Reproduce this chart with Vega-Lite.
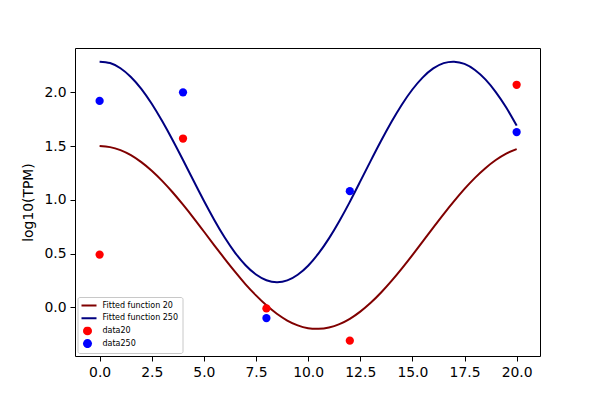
{
  "$schema": "https://vega.github.io/schema/vega-lite/v6.json",
  "width": 465,
  "height": 308,
  "autosize": {"type": "none"},
  "padding": {"left": 75, "top": 48, "right": 60, "bottom": 44},
  "background": "white",
  "config": {
    "font": "DejaVu Sans",
    "view": {"stroke": "black", "strokeWidth": 1},
    "axis": {
      "domain": false,
      "grid": false,
      "ticks": true,
      "tickColor": "black",
      "tickSize": 5,
      "tickWidth": 1,
      "labelFont": "DejaVu Sans",
      "labelFontSize": 13.9,
      "labelColor": "black",
      "labelPadding": 4,
      "titleFont": "DejaVu Sans",
      "titleFontSize": 13.9,
      "titleFontWeight": "normal",
      "titleColor": "black"
    }
  },
  "datasets": {
    "curves": [
      {"x": 0, "y": 1.500, "series": "Fitted function 20"},
      {"x": 0.5, "y": 1.490, "series": "Fitted function 20"},
      {"x": 1, "y": 1.462, "series": "Fitted function 20"},
      {"x": 1.5, "y": 1.415, "series": "Fitted function 20"},
      {"x": 2, "y": 1.350, "series": "Fitted function 20"},
      {"x": 2.5, "y": 1.270, "series": "Fitted function 20"},
      {"x": 3, "y": 1.176, "series": "Fitted function 20"},
      {"x": 3.5, "y": 1.070, "series": "Fitted function 20"},
      {"x": 4, "y": 0.954, "series": "Fitted function 20"},
      {"x": 4.5, "y": 0.832, "series": "Fitted function 20"},
      {"x": 5, "y": 0.705, "series": "Fitted function 20"},
      {"x": 5.5, "y": 0.577, "series": "Fitted function 20"},
      {"x": 6, "y": 0.451, "series": "Fitted function 20"},
      {"x": 6.5, "y": 0.329, "series": "Fitted function 20"},
      {"x": 7, "y": 0.214, "series": "Fitted function 20"},
      {"x": 7.5, "y": 0.111, "series": "Fitted function 20"},
      {"x": 8, "y": 0.018, "series": "Fitted function 20"},
      {"x": 8.5, "y": -0.060, "series": "Fitted function 20"},
      {"x": 9, "y": -0.123, "series": "Fitted function 20"},
      {"x": 9.5, "y": -0.168, "series": "Fitted function 20"},
      {"x": 10, "y": -0.194, "series": "Fitted function 20"},
      {"x": 10.5, "y": -0.200, "series": "Fitted function 20"},
      {"x": 11, "y": -0.187, "series": "Fitted function 20"},
      {"x": 11.5, "y": -0.156, "series": "Fitted function 20"},
      {"x": 12, "y": -0.107, "series": "Fitted function 20"},
      {"x": 12.5, "y": -0.040, "series": "Fitted function 20"},
      {"x": 13, "y": 0.042, "series": "Fitted function 20"},
      {"x": 13.5, "y": 0.138, "series": "Fitted function 20"},
      {"x": 14, "y": 0.246, "series": "Fitted function 20"},
      {"x": 14.5, "y": 0.363, "series": "Fitted function 20"},
      {"x": 15, "y": 0.486, "series": "Fitted function 20"},
      {"x": 15.5, "y": 0.613, "series": "Fitted function 20"},
      {"x": 16, "y": 0.741, "series": "Fitted function 20"},
      {"x": 16.5, "y": 0.867, "series": "Fitted function 20"},
      {"x": 17, "y": 0.987, "series": "Fitted function 20"},
      {"x": 17.5, "y": 1.101, "series": "Fitted function 20"},
      {"x": 18, "y": 1.204, "series": "Fitted function 20"},
      {"x": 18.5, "y": 1.294, "series": "Fitted function 20"},
      {"x": 19, "y": 1.370, "series": "Fitted function 20"},
      {"x": 19.5, "y": 1.430, "series": "Fitted function 20"},
      {"x": 20, "y": 1.472, "series": "Fitted function 20"},
      {"x": 0, "y": 2.285, "series": "Fitted function 250"},
      {"x": 0.5, "y": 2.272, "series": "Fitted function 250"},
      {"x": 1, "y": 2.224, "series": "Fitted function 250"},
      {"x": 1.5, "y": 2.143, "series": "Fitted function 250"},
      {"x": 2, "y": 2.032, "series": "Fitted function 250"},
      {"x": 2.5, "y": 1.893, "series": "Fitted function 250"},
      {"x": 3, "y": 1.732, "series": "Fitted function 250"},
      {"x": 3.5, "y": 1.556, "series": "Fitted function 250"},
      {"x": 4, "y": 1.370, "series": "Fitted function 250"},
      {"x": 4.5, "y": 1.179, "series": "Fitted function 250"},
      {"x": 5, "y": 0.991, "series": "Fitted function 250"},
      {"x": 5.5, "y": 0.813, "series": "Fitted function 250"},
      {"x": 6, "y": 0.649, "series": "Fitted function 250"},
      {"x": 6.5, "y": 0.507, "series": "Fitted function 250"},
      {"x": 7, "y": 0.391, "series": "Fitted function 250"},
      {"x": 7.5, "y": 0.305, "series": "Fitted function 250"},
      {"x": 8, "y": 0.252, "series": "Fitted function 250"},
      {"x": 8.5, "y": 0.233, "series": "Fitted function 250"},
      {"x": 9, "y": 0.250, "series": "Fitted function 250"},
      {"x": 9.5, "y": 0.303, "series": "Fitted function 250"},
      {"x": 10, "y": 0.387, "series": "Fitted function 250"},
      {"x": 10.5, "y": 0.501, "series": "Fitted function 250"},
      {"x": 11, "y": 0.641, "series": "Fitted function 250"},
      {"x": 11.5, "y": 0.803, "series": "Fitted function 250"},
      {"x": 12, "y": 0.981, "series": "Fitted function 250"},
      {"x": 12.5, "y": 1.171, "series": "Fitted function 250"},
      {"x": 13, "y": 1.362, "series": "Fitted function 250"},
      {"x": 13.5, "y": 1.549, "series": "Fitted function 250"},
      {"x": 14, "y": 1.726, "series": "Fitted function 250"},
      {"x": 14.5, "y": 1.887, "series": "Fitted function 250"},
      {"x": 15, "y": 2.026, "series": "Fitted function 250"},
      {"x": 15.5, "y": 2.139, "series": "Fitted function 250"},
      {"x": 16, "y": 2.222, "series": "Fitted function 250"},
      {"x": 16.5, "y": 2.271, "series": "Fitted function 250"},
      {"x": 17, "y": 2.285, "series": "Fitted function 250"},
      {"x": 17.5, "y": 2.264, "series": "Fitted function 250"},
      {"x": 18, "y": 2.208, "series": "Fitted function 250"},
      {"x": 18.5, "y": 2.120, "series": "Fitted function 250"},
      {"x": 19, "y": 2.002, "series": "Fitted function 250"},
      {"x": 19.5, "y": 1.858, "series": "Fitted function 250"},
      {"x": 20, "y": 1.690, "series": "Fitted function 250"}
    ],
    "points": [
      {"x": 0, "y": 0.49, "series": "data20"},
      {"x": 4, "y": 1.57, "series": "data20"},
      {"x": 8, "y": -0.01, "series": "data20"},
      {"x": 12, "y": -0.31, "series": "data20"},
      {"x": 20, "y": 2.07, "series": "data20"},
      {"x": 0, "y": 1.92, "series": "data250"},
      {"x": 4, "y": 2.0, "series": "data250"},
      {"x": 8, "y": -0.1, "series": "data250"},
      {"x": 12, "y": 1.08, "series": "data250"},
      {"x": 20, "y": 1.63, "series": "data250"}
    ]
  },
  "layer": [
    {
      "data": {"name": "curves"},
      "mark": {"type": "line", "strokeWidth": 2, "interpolate": "natural", "clip": true},
      "encoding": {
        "x": {
          "field": "x", "type": "quantitative",
          "scale": {"domain": [-1.18, 21.12], "nice": false, "zero": false},
          "axis": {"values": [0, 2.5, 5, 7.5, 10, 12.5, 15, 17.5, 20], "format": ".1f", "title": null}
        },
        "y": {
          "field": "y", "type": "quantitative",
          "scale": {"domain": [-0.453, 2.412], "nice": false, "zero": false},
          "axis": {"values": [0, 0.5, 1, 1.5, 2], "format": ".1f", "title": "log10(TPM)", "titlePadding": 8}
        },
        "color": {
          "field": "series", "type": "nominal",
          "scale": {
            "domain": ["Fitted function 20", "Fitted function 250", "data20", "data250"],
            "range": ["#800000", "#000080", "#ff0000", "#0000ff"]
          },
          "legend": {
            "title": null,
            "orient": "none",
            "legendX": 2.5,
            "legendY": 249,
            "padding": 4,
            "fillColor": "white",
            "strokeColor": "#c8c8c8",
            "cornerRadius": 2,
            "labelFont": "DejaVu Sans",
            "labelFontSize": 8,
            "labelColor": "black",
            "labelOffset": 11,
            "symbolOffset": 2,
            "symbolSize": 81,
            "symbolStrokeWidth": 2,
            "clipHeight": 9,
            "rowPadding": 3.7,
            "encode": {
              "legend": {
                "update": {
                  "stroke": {"value": "#c8c8c8"},
                  "strokeWidth": {"value": 1},
                  "fill": {"value": "white"}
                }
              },
              "labels": {
                "update": {
                  "fill": {"value": "black"}
                }
              },
              "symbols": {
                "update": {
                  "shape": {"signal": "datum.value === 'data20' || datum.value === 'data250' ? 'circle' : 'M-2,0H2'"},
                  "strokeWidth": {"signal": "datum.value === 'data20' || datum.value === 'data250' ? 0 : 2"},
                  "stroke": {"scale": "color", "field": "value"},
                  "fill": {"scale": "color", "field": "value"},
                  "opacity": {"value": 1}
                }
              }
            }
          }
        }
      }
    },
    {
      "data": {"name": "points"},
      "mark": {"type": "point", "filled": true, "opacity": 1, "size": 68},
      "encoding": {
        "x": {"field": "x", "type": "quantitative"},
        "y": {"field": "y", "type": "quantitative"},
        "color": {"field": "series", "type": "nominal"}
      }
    }
  ]
}
